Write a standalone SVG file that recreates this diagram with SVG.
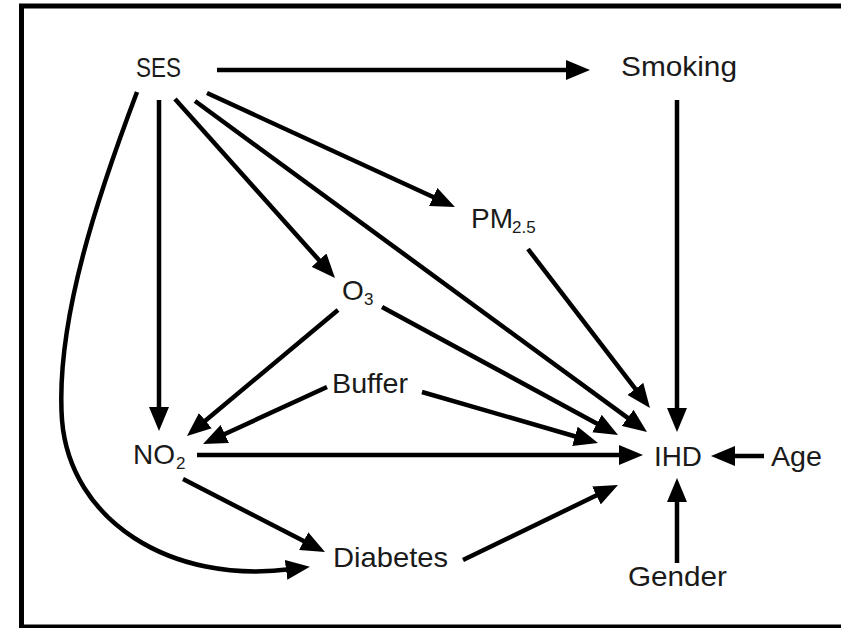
<svg xmlns="http://www.w3.org/2000/svg" width="841" height="628" viewBox="0 0 841 628">
<style>
.lbl{font-family:"Liberation Sans",Arial,sans-serif;font-size:28px;fill:#1a1a1a}
.sub{font-size:17px}
.edge{fill:none;stroke:#000;stroke-width:4.5;marker-end:url(#ah)}
</style>
<defs>
<marker id="ah" markerUnits="userSpaceOnUse" markerWidth="24" markerHeight="20" viewBox="0 0 24 20" refX="6" refY="10" orient="auto">
<path d="M0,0 L24,10 L0,20 z" fill="#000"/>
</marker>
</defs>
<rect x="0" y="0" width="841" height="628" fill="#fff"/>
<rect id="frame" x="21.5" y="6" width="830" height="621" fill="#fff" stroke="#000" stroke-width="5"/>
<g id="connectors">
<path class="edge" d="M217,70 L572,70"/>
<path class="edge" d="M159,100 L159,413"/>
<path class="edge" d="M677,100 L677,414"/>
<path class="edge" d="M764,456 L729,456"/>
<path class="edge" d="M677,563 L677,496"/>
<path class="edge" d="M197,455 L625,455"/>
<path class="edge" d="M528,249 L639,393.7"/>
<path class="edge" d="M195,101 L632.5,421.4"/>
<path class="edge" d="M382,307 L602.2,426.4"/>
<path class="edge" d="M422,392 L580.7,438"/>
<path class="edge" d="M175,99 L323,264.6"/>
<path class="edge" d="M207,93 L438.6,199.5"/>
<path class="edge" d="M338,310 L200.8,424.5"/>
<path class="edge" d="M327,387 L219.4,436.5"/>
<path class="edge" d="M183,479 L309,543.8"/>
<path class="edge" d="M463,560 L601.8,492.8"/>
<path class="edge" d="M137,92 C100,190 55,320 62,420 C70,520 170,585 292,569"/>
</g>
<g id="node-ses"><text class="lbl" x="136" y="77" textLength="45" lengthAdjust="spacingAndGlyphs">SES</text></g>
<g id="node-smoking"><text class="lbl" x="621" y="76" textLength="116" lengthAdjust="spacingAndGlyphs">Smoking</text></g>
<g id="node-pm25"><text class="lbl" x="471" y="228">PM<tspan class="sub" x="512" y="233">2.5</tspan></text></g>
<g id="node-o3"><text class="lbl" x="342" y="300">O<tspan class="sub" x="364" y="305">3</tspan></text></g>
<g id="node-buffer"><text class="lbl" x="332" y="393" textLength="76" lengthAdjust="spacingAndGlyphs">Buffer</text></g>
<g id="node-no2"><text class="lbl" x="133" y="464">NO<tspan class="sub" x="176" y="469">2</tspan></text></g>
<g id="node-ihd"><text class="lbl" x="654" y="466" textLength="48" lengthAdjust="spacingAndGlyphs">IHD</text></g>
<g id="node-age"><text class="lbl" x="771" y="466" textLength="51" lengthAdjust="spacingAndGlyphs">Age</text></g>
<g id="node-diabetes"><text class="lbl" x="333" y="567" textLength="115" lengthAdjust="spacingAndGlyphs">Diabetes</text></g>
<g id="node-gender"><text class="lbl" x="628" y="586" textLength="99" lengthAdjust="spacingAndGlyphs">Gender</text></g>
</svg>
